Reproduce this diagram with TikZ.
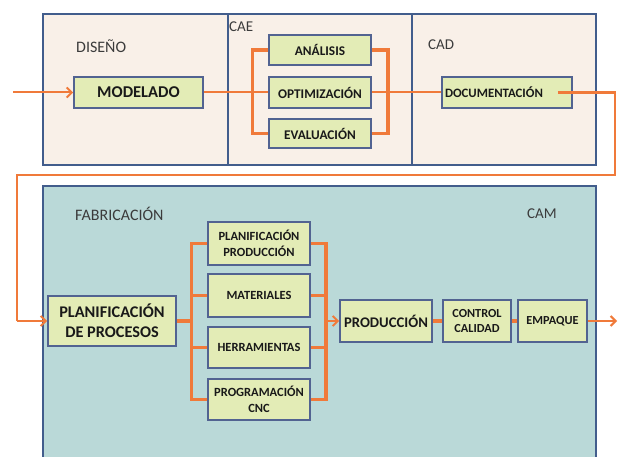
\documentclass[tikz,border=0pt]{standalone}
\usepackage{fontspec}
\setmainfont{Carlito}
\usetikzlibrary{arrows.meta,calc}
\definecolor{peach}{RGB}{249,240,232}
\definecolor{teal1}{RGB}{186,217,216}
\definecolor{boxfill}{RGB}{227,236,182}
\definecolor{boxline}{RGB}{82,99,145}
\definecolor{bandline}{RGB}{66,93,140}
\definecolor{orng}{RGB}{240,122,58}
\definecolor{txt}{RGB}{25,25,25}
\tikzset{
  band/.style={draw=bandline, line width=1.4pt},
  blk/.style={draw=boxline, fill=boxfill, line width=1.8pt, inner sep=0pt, text=txt, font=\bfseries, align=center},
  lbl/.style={anchor=west, inner sep=0pt, text=txt!85, font=\fontsize{16}{17}\selectfont},
  thin/.style={draw=orng, line width=2pt},
  thick/.style={draw=orng, line width=3.2pt},
  arr/.style={-{Straight Barb[length=5pt,width=10pt,line width=2pt]}}
}
\begin{document}
\begin{tikzpicture}[x=1pt,y=-1pt]
\useasboundingbox (0,0) rectangle (623,457);
\fill[white] (0,0) rectangle (623,457);
% bands
\fill[peach] (43,14) rectangle (596,165);
\draw[band] (43,14) rectangle (596,165);
\draw[band] (228,14) -- (228,165);
\draw[band] (412,14) -- (412,165);
\fill[teal1] (43,186) rectangle (596,457);
\draw[band] (43,470) -- (43,186) -- (596,186) -- (596,470);
% labels
\node[lbl] (ldis) at (76,46) {DISEÑO};
\node[lbl, font=\fontsize{15}{16}\selectfont] (lcae) at (229,27) {CAE};
\node[lbl, font=\fontsize{15}{16}\selectfont] (lcad) at (428,45) {CAD};
\node[lbl] (lfab) at (75,214) {FABRICACIÓN};
\node[lbl, font=\fontsize{15}{16}\selectfont] (lcam) at (527,214) {CAM};
% top boxes
\node[blk, minimum width=129pt, minimum height=31pt, font=\bfseries\fontsize{16.5}{17}\selectfont] (model) at (138.5,92.5) {MODELADO};
\node[blk, minimum width=102pt, minimum height=30pt, font=\bfseries\fontsize{13.3}{14}\selectfont] (anal) at (320,50) {ANÁLISIS};
\node[blk, minimum width=102pt, minimum height=31pt, font=\bfseries\fontsize{13.3}{14}\selectfont] (optim) at (320,92.5) {OPTIMIZACIÓN};
\node[blk, minimum width=102pt, minimum height=29pt, font=\bfseries\fontsize{13.3}{14}\selectfont] (eval) at (320,133.5) {EVALUACIÓN};
\node[blk, minimum width=130pt, minimum height=31pt, text width=124pt, align=left, font=\bfseries\fontsize{12.8}{14}\selectfont] (doc) at (507,92.5) {DOCUMENTACIÓN};
% bottom boxes
\node[blk, minimum width=128pt, minimum height=50pt, font=\bfseries\fontsize{16.3}{20}\selectfont] (pp) at (112,321) {PLANIFICACIÓN\\DE PROCESOS};
\node[blk, minimum width=102pt, minimum height=43pt, font=\bfseries\fontsize{12.5}{15.5}\selectfont] (m1) at (259,243.5) {PLANIFICACIÓN\\PRODUCCIÓN};
\node[blk, minimum width=102pt, minimum height=43pt, font=\bfseries\fontsize{12.5}{15.5}\selectfont] (m2) at (259,295.5) {MATERIALES};
\node[blk, minimum width=102pt, minimum height=41pt, font=\bfseries\fontsize{12.5}{15.5}\selectfont] (m3) at (259,347.5) {HERRAMIENTAS};
\node[blk, minimum width=102pt, minimum height=41pt, font=\bfseries\fontsize{12.5}{15.5}\selectfont] (m4) at (259,399.5) {PROGRAMACIÓN\\CNC};
\node[blk, minimum width=92pt, minimum height=42pt, font=\bfseries\fontsize{14.7}{16}\selectfont] (prod) at (386,321) {PRODUCCIÓN};
\node[blk, minimum width=68pt, minimum height=42pt, font=\bfseries\fontsize{12.3}{15}\selectfont] (ctrl) at (477,321) {CONTROL\\CALIDAD};
\node[blk, minimum width=69pt, minimum height=42pt, font=\bfseries\fontsize{12.3}{15}\selectfont] (emp) at (552.5,321) {EMPAQUE};
% connectors top
\coordinate (in) at (13,92.5);
\draw[thin, arr] (in) -- (model.west);
\draw[thin] (model.east) -- (optim.west);
\draw[thick] (anal.west) -- ++(-16,0) |- (eval.west);
\draw[thick] (anal.east) -- ++(16,0) |- (eval.east);
\draw[thin] (optim.east) -- (doc.west);
\coordinate (ds) at ($(doc.east)+(-15,0)$);
\coordinate (r1) at (615,92.5);
\coordinate (r2) at (615,175);
\coordinate (r3) at (17,175);
\coordinate (r4) at (17,321);
\draw[draw=orng, line width=2.8pt, line join=miter] (ds) -- (r1) -- (r2) -- (r3) -- (r4);
\draw[thin, arr] (r4) -- (pp.west);
% connectors bottom
\coordinate (bl) at (192,321);
\draw[thick] (pp.east) -- (bl);
\draw[thick] (m1.west) -- ++(-16,0) |- (m4.west);
\draw[thick] (m2.west) -- ++(-16,0);
\draw[thick] (m3.west) -- ++(-16,0);
\draw[thick] (m1.east) -- ++(15,0) |- (m4.east);
\draw[thick] (m2.east) -- ++(15,0);
\draw[thick] (m3.east) -- ++(15,0);
\coordinate (br) at (325,321);
\draw[thin, arr] (br) -- (prod.west);
\draw[thick] (prod.east) -- (ctrl.west);
\draw[thick] (ctrl.east) -- (emp.west);
\coordinate (out) at (617,321);
\draw[thin, arr] (emp.east) -- (out);
\end{tikzpicture}
\end{document}
